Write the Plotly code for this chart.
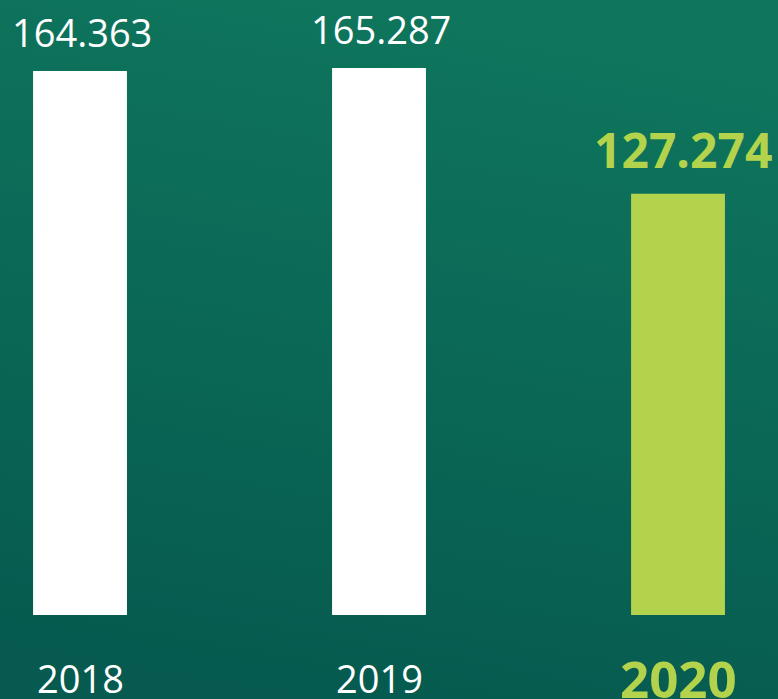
import base64
import plotly.graph_objects as go

WIDTH, HEIGHT = 778, 699
BG_TOP = "#0f765d"
BG_BOTTOM = "#065a4f"
WHITE = "#ffffff"
LIME = "#b2d34b"
FONT = "Open Sans"

years = ["2018", "2019", "2020"]
values = [164.363, 165.287, 127.274]
labels = ["164.363", "165.287", "127.274"]
highlight = [False, False, True]

# ── background gradient as an inline svg image ──────────────────────────────
svg = (
    '<svg xmlns="http://www.w3.org/2000/svg" width="778" height="699">'
    '<defs><linearGradient id="g" x1="0.6" y1="0" x2="0.4" y2="1">'
    f'<stop offset="0" stop-color="{BG_TOP}"/>'
    f'<stop offset="1" stop-color="{BG_BOTTOM}"/>'
    '</linearGradient></defs>'
    '<rect width="778" height="699" fill="url(#g)"/></svg>'
)
bg_src = "data:image/svg+xml;base64," + base64.b64encode(svg.encode()).decode()

colors = [LIME if h else WHITE for h in highlight]

fig = go.Figure(go.Bar(
    x=list(range(len(years))), y=values,
    marker=dict(color=colors, line_width=0),
    width=0.314, hoverinfo="skip",
))

annotations = []
for i, (lab, val, h) in enumerate(zip(labels, values, highlight)):
    annotations.append(dict(
        x=i, y=val, xref="x", yref="y", text=lab, showarrow=False,
        xanchor="center", yanchor="middle",
        yshift=44 if h else 39, xshift=5 if h else 2,
        font=dict(family=FONT, size=48 if h else 38,
                  color=LIME if h else WHITE,
                  weight=700 if h else 400),
    ))
    annotations.append(dict(
        x=i, y=0, xref="x", yref="paper", text=years[i], showarrow=False,
        xanchor="center", yanchor="middle", yshift=-63,
        font=dict(family=FONT, size=51 if h else 38,
                  color=LIME if h else WHITE,
                  weight=700 if h else 400),
    ))

fig.update_layout(
    width=WIDTH, height=HEIGHT,
    margin=dict(l=0, r=0, t=0, b=84),
    paper_bgcolor=BG_BOTTOM, plot_bgcolor="rgba(0,0,0,0)",
    showlegend=False,
    xaxis=dict(range=[-0.2676, 2.3344], visible=False),
    yaxis=dict(range=[0, 185.8], visible=False),
    annotations=annotations,
    images=[dict(
        source=bg_src, xref="paper", yref="paper",
        x=0, y=1, sizex=1, sizey=HEIGHT / 615,
        xanchor="left", yanchor="top", sizing="stretch", layer="below",
    )],
)

fig.write_html(
    "out.html",
    config={"displayModeBar": False},
    post_script="document.body.style.margin = '0';",
)
